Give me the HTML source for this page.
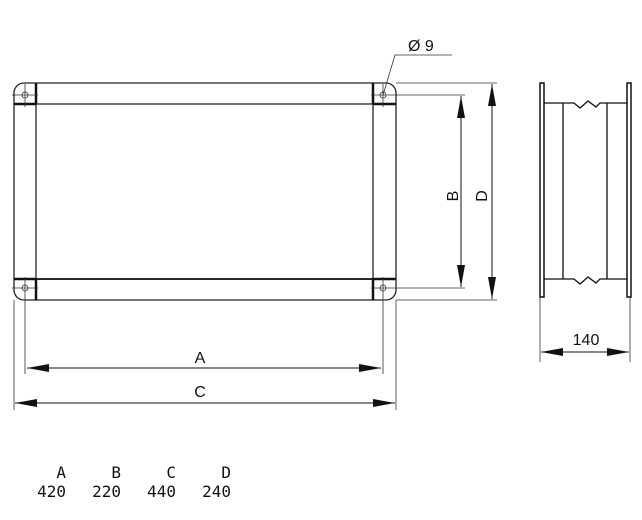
<!DOCTYPE html>
<html><head><style>html,body{margin:0;padding:0;background:#fff}svg{display:block}</style></head>
<body>
<svg width="642" height="520" viewBox="0 0 642 520" xmlns="http://www.w3.org/2000/svg" font-family="Liberation Sans, sans-serif">
<defs>
<marker id="ar" markerWidth="24" markerHeight="8" refX="22" refY="4" orient="auto" markerUnits="userSpaceOnUse"><path d="M0,0 L22,4 L0,8 Z" fill="#111"/></marker>
<marker id="al" markerWidth="24" markerHeight="8" refX="0" refY="4" orient="auto" markerUnits="userSpaceOnUse"><path d="M22,0 L0,4 L22,8 Z" fill="#111"/></marker>
</defs>
<g fill="none" stroke="#222" stroke-width="1.3">
<path d="M24,83 H386 A10,10 0 0 1 396,93 V290 A10,10 0 0 1 386,300 H24 A10,10 0 0 1 14,290 V93 A10,10 0 0 1 24,83 Z"/>
<line x1="36" y1="104" x2="373" y2="104"/>
<line x1="36" y1="279" x2="373" y2="279"/>
<line x1="36" y1="83" x2="36" y2="300"/>
<line x1="373" y1="83" x2="373" y2="300"/>
</g>
<g stroke="#111" stroke-width="2.5">
<line x1="36" y1="83" x2="36" y2="104"/><line x1="14" y1="104" x2="36" y2="104"/>
<line x1="373" y1="83" x2="373" y2="104"/><line x1="373" y1="104" x2="396" y2="104"/>
<line x1="36" y1="279" x2="36" y2="300"/><line x1="14" y1="279" x2="36" y2="279"/>
<line x1="373" y1="279" x2="373" y2="300"/><line x1="373" y1="279" x2="396" y2="279"/>
<line x1="36" y1="279" x2="373" y2="279" stroke-width="1.8"/>
</g>
<g fill="none" stroke="#333" stroke-width="0.8">
<circle cx="25" cy="95" r="3"/><circle cx="383" cy="95" r="3"/>
<circle cx="25" cy="288" r="3"/><circle cx="383" cy="288" r="3"/>
<line x1="25" y1="84" x2="25" y2="107"/><line x1="12" y1="95" x2="38" y2="95"/>
<line x1="383" y1="84" x2="383" y2="107"/><line x1="371" y1="95" x2="465" y2="95"/>
<line x1="12" y1="288" x2="38" y2="288"/><line x1="371" y1="288" x2="465" y2="288"/>
<line x1="25" y1="277" x2="25" y2="374"/><line x1="383" y1="277" x2="383" y2="374"/>
<line x1="14" y1="300" x2="14" y2="410"/><line x1="396" y1="300" x2="396" y2="410"/>
<line x1="396" y1="300" x2="497" y2="300"/><line x1="396" y1="83" x2="497" y2="83"/>
<polyline points="383,95 395,55 452,55"/>
<line x1="540" y1="297" x2="540" y2="362"/><line x1="630" y1="297" x2="630" y2="362"/>
</g>
<g stroke="#111" stroke-width="1">
<line x1="27" y1="368" x2="381" y2="368" marker-start="url(#al)" marker-end="url(#ar)"/>
<line x1="15" y1="403" x2="395" y2="403" marker-start="url(#al)" marker-end="url(#ar)"/>
<line x1="461" y1="96" x2="461" y2="287" marker-start="url(#al)" marker-end="url(#ar)"/>
<line x1="492" y1="84" x2="492" y2="299" marker-start="url(#al)" marker-end="url(#ar)"/>
<line x1="541" y1="352" x2="629" y2="352" marker-start="url(#al)" marker-end="url(#ar)"/>
</g>
<g fill="none" stroke="#111" stroke-width="1.3">
<rect x="540" y="83" width="4" height="214" stroke-width="1.5"/>
<rect x="627" y="83" width="4" height="214" stroke-width="1.5"/>
<line x1="563" y1="103" x2="563" y2="279"/><line x1="607" y1="103" x2="607" y2="279"/>
<polyline points="544,103 574,103 580,108 588,101 596,107 600,103 627,103"/>
<polyline points="544,279 574,279 580,284 588,277 596,283 600,279 627,279"/>
</g>
<g fill="#111" font-size="16">
<text x="200" y="363" text-anchor="middle">A</text>
<text x="200" y="397" text-anchor="middle">C</text>
<text x="586" y="345" text-anchor="middle">140</text>
<text x="408" y="51">Ø 9</text>
<text transform="translate(458,196) rotate(-90)" text-anchor="middle">B</text>
<text transform="translate(487,196) rotate(-90)" text-anchor="middle">D</text>
</g>
<g fill="#111" font-size="16" font-family="DejaVu Sans Mono, Liberation Mono, monospace" text-anchor="end">
<text x="66" y="478">A</text><text x="121" y="478">B</text><text x="176" y="478">C</text><text x="231" y="478">D</text>
<text x="66" y="497">420</text><text x="121" y="497">220</text><text x="176" y="497">440</text><text x="231" y="497">240</text>
</g>
</svg>
</body></html>
